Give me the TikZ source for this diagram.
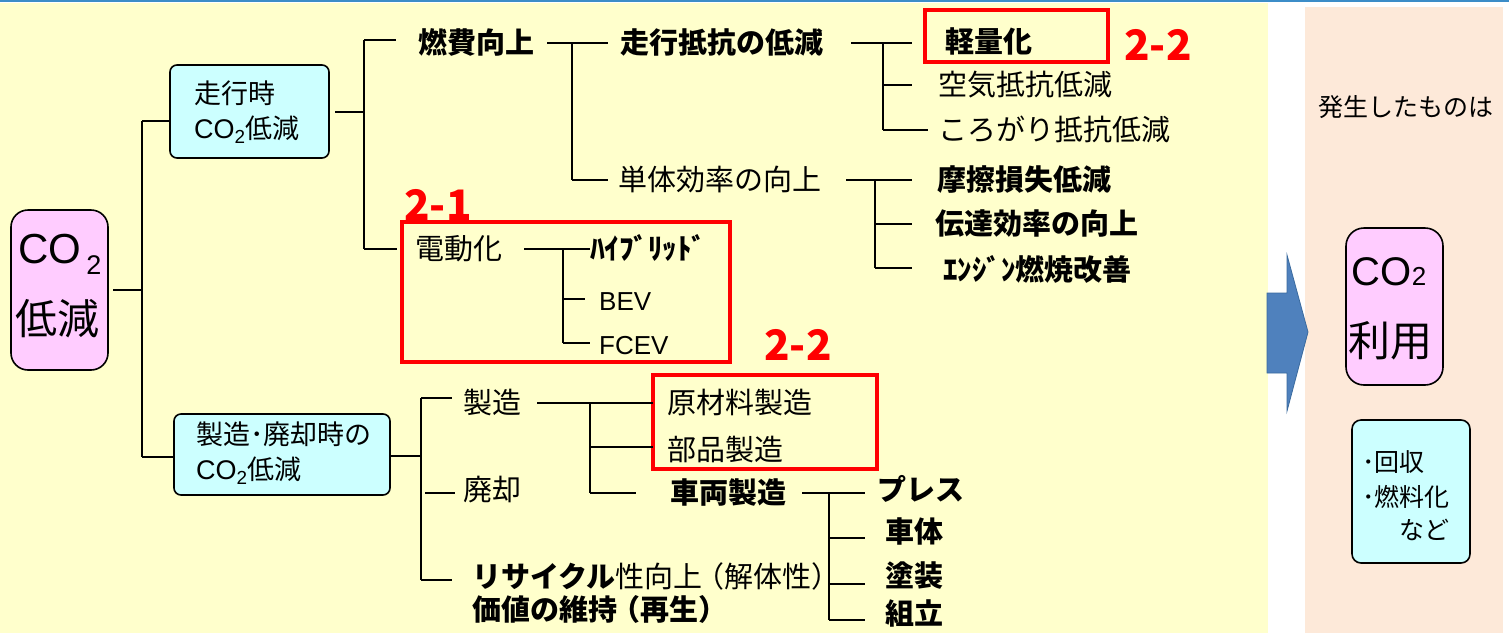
\documentclass[tikz,border=0pt]{standalone}
\usepackage{fontspec}
\setmainfont{Noto Sans CJK JP}
\newfontfamily\arialf{Liberation Sans}
\definecolor{bgy}{HTML}{FFFFCC}
\definecolor{bgp}{HTML}{FDE9D9}
\definecolor{cyb}{HTML}{CCFFFF}
\definecolor{pkb}{HTML}{FFCCFF}
\definecolor{topblue}{HTML}{3C8DC8}
\definecolor{arrblue}{HTML}{4F81BD}
\definecolor{arredge}{HTML}{3A6A9E}
\definecolor{redl}{HTML}{FF0000}
\newcommand\fsA{\fontsize{29}{34}\selectfont}
\newcommand\fsB{\fontsize{27}{35}\selectfont}
\newcommand\fsR{\fontsize{25}{30}\selectfont}
\newcommand\fsC{\fontsize{42}{48}\selectfont}
\newcommand\fsL{\fontsize{42}{48}\selectfont}
\begin{document}
\begin{tikzpicture}[x=1pt,y=-1pt,
  t/.style={anchor=west, inner sep=0pt, text height=25pt, text depth=4pt, font=\fsA},
  tb/.style={t, font=\fsA\bfseries},
  wire/.style={line width=1.8pt, black},
  redbox/.style={draw=redl, line width=3.4pt},
  redlab/.style={text=redl, inner sep=0pt, font=\fsL\bfseries},
  cbox/.style={draw=black, line width=1.6pt, fill=cyb, rounded corners=7pt, inner sep=0pt},
  pbox/.style={draw=black, line width=1.6pt, fill=pkb, rounded corners=17pt, inner sep=0pt}]
\useasboundingbox (0,0) rectangle (1509,633);
% backgrounds
\fill[white] (0,0) rectangle (1509,633);
\fill[bgy] (0,3) rectangle (1268,633);
\fill[bgp] (1305,7) rectangle (1503,633);
\draw[topblue, line width=1.6pt] (0,0.8) -- (1509,0.8);
% big arrow
\filldraw[fill=arrblue, draw=arredge, line width=0.8pt]
  (1267,293) -- (1287,293) -- (1287,255) -- (1308,332) -- (1287,411) -- (1287,373) -- (1267,373) -- cycle;

% left root box
\node[pbox, minimum width=97pt, minimum height=160pt] (co2) at (59.5,290) {};
\node[inner sep=0pt, font=\arialf\fsC] (co2a) at (50,249) {CO};
\node[inner sep=0pt, font=\arialf\fontsize{27}{27}\selectfont] (co2b) at (94,265) {2};
\node[inner sep=0pt, font=\fsC] (co2c) at (58,319) {低減};

% level-1 boxes
\node[cbox, minimum width=159pt, minimum height=93pt] (run) at (249.5,111.5) {};
\node[anchor=west, inner sep=0pt, align=left, font=\fsB] (runt) at (194,112)
  {走行時\\{\arialf CO\textsubscript{2}}低減};
\node[cbox, minimum width=216pt, minimum height=81pt] (mfg) at (282,454.5) {};
\node[anchor=west, inner sep=0pt, align=left, font=\fsB] (mfgt) at (196,453)
  {製造･廃却時の\\{\arialf CO\textsubscript{2}}低減};

% tree texts
\node[tb] (n1) at (418,43) {燃費向上};
\node[tb] (n2) at (620,43) {走行抵抗の低減};
\node[tb] (n3) at (945,42) {軽量化};
\node[t]  (n4) at (938,85) {空気抵抗低減};
\node[t]  (n5) at (938,130) {ころがり抵抗低減};
\node[t]  (n6) at (618,180) {単体効率の向上};
\node[tb] (n7) at (937,180) {摩擦損失低減};
\node[tb] (n8) at (935,224) {伝達効率の向上};
\node[tb] (n9) at (943,270) {ｴﾝｼﾞﾝ燃焼改善};
\node[t]  (n10) at (415,249) {電動化};
\node[tb] (n11) at (590,249) {ﾊｲﾌﾞﾘｯﾄﾞ};
\node[t, font=\arialf\fontsize{26}{30}\selectfont] (n12) at (599,300) {BEV};
\node[t, font=\arialf\fontsize{26}{30}\selectfont] (n13) at (599,344) {FCEV};
\node[t]  (n14) at (463,403) {製造};
\node[t]  (n15) at (463,490) {廃却};
\node[t]  (n16) at (472,577) {\textbf{リサイクル}性向上\kern-0.25em（解体性）};
\node[tb] (n17) at (472,610) {価値の維持\kern-0.2em（再生）};
\node[t]  (n18) at (667,403) {原材料製造};
\node[t]  (n19) at (667,450) {部品製造};
\node[tb] (n20) at (670,493) {車両製造};
\node[tb] (n21) at (877,490) {プレス};
\node[tb] (n22) at (885,532) {車体};
\node[tb] (n23) at (885,576) {塗装};
\node[tb] (n24) at (885,614) {組立};

% red highlight boxes and labels
\draw[redbox] (925,10) rectangle (1108,62);
\draw[redbox] (402,222) rectangle (730,362);
\draw[redbox] (653,375) rectangle (877,469);
\node[redlab] (r1) at (1158,45) {2-2};
\node[redlab] (r2) at (438,205) {2-1};
\node[redlab] (r3) at (798,345) {2-2};

% right side
\node[anchor=west, inner sep=0pt, font=\fsR] (hs) at (1318,107) {発生したものは};
\node[pbox, rounded corners=18pt, minimum width=97pt, minimum height=157pt] (use) at (1394.5,306.5) {};
\node[inner sep=0pt, font=\arialf\fontsize{40}{44}\selectfont] (usea) at (1389,272) {CO{\fontsize{26}{26}\selectfont 2}};
\node[inner sep=0pt, font=\fsC] (useb) at (1390,341) {利用};
\node[cbox, rounded corners=9pt, minimum width=118pt, minimum height=143pt] (rec) at (1411,491.5) {};
\node[anchor=west, inner sep=0pt, font=\fsR] (rec1) at (1362,462) {･回収};
\node[anchor=west, inner sep=0pt, font=\fsR] (rec2) at (1362,497) {･燃料化};
\node[anchor=west, inner sep=0pt, font=\fsR] (rec3) at (1399,530) {など};

% connector coordinates
\coordinate (a0) at (113,290);
\coordinate (a1) at (142,290);
\coordinate (a2) at (142,121);
\coordinate (a3) at (142,457);
\draw[wire] (a0) -- (a1);
\draw[wire] (a2) -- (a3);
\draw[wire] (a2) -- (run.west |- a2);
\draw[wire] (a3) -- (mfg.west |- a3);

\coordinate (b0) at (335,112);
\coordinate (b1) at (364,112);
\coordinate (b2) at (364,40);
\coordinate (b3) at (364,249);
\draw[wire] (b0) -- (b1);
\draw[wire] (b2) -- (b3);
\draw[wire] (b2) -- (396,40);
\draw[wire] (b3) -- (397,249);

\coordinate (c0) at (547,43);
\coordinate (c1) at (572,43);
\coordinate (c2) at (572,180);
\draw[wire] (c0) -- (608,43);
\draw[wire] (c1) -- (c2);
\draw[wire] (c2) -- (608,180);

\coordinate (d0) at (851,43);
\coordinate (d1) at (883,43);
\coordinate (d2) at (883,85);
\coordinate (d3) at (883,130);
\draw[wire] (d0) -- (912,43);
\draw[wire] (d1) -- (d3);
\draw[wire] (d2) -- (912,85);
\draw[wire] (d3) -- (928,130);

\coordinate (e0) at (846,180);
\coordinate (e1) at (875,180);
\coordinate (e2) at (875,224);
\coordinate (e3) at (875,268);
\draw[wire] (e0) -- (912,180);
\draw[wire] (e1) -- (e3);
\draw[wire] (e2) -- (912,224);
\draw[wire] (e3) -- (912,268);

\coordinate (f0) at (524,249);
\coordinate (f1) at (563,249);
\coordinate (f2) at (563,299);
\coordinate (f3) at (563,343);
\draw[wire] (f0) -- (n11.west |- f0);
\draw[wire] (f1) -- (f3);
\draw[wire] (f2) -- (585,299);
\draw[wire] (f3) -- (590,343);

\coordinate (g0) at (390,456);
\coordinate (g1) at (421,456);
\coordinate (g2) at (421,398);
\coordinate (g3) at (421,580);
\draw[wire] (g0) -- (g1);
\draw[wire] (g2) -- (g3);
\draw[wire] (g2) -- (452,398);
\draw[wire] (425,493) -- (455,493);
\draw[wire] (g3) -- (452,580);

\coordinate (h0) at (537,403);
\coordinate (h1) at (590,403);
\coordinate (h2) at (590,447);
\coordinate (h3) at (590,493);
\draw[wire] (h0) -- (653,403);
\draw[wire] (h1) -- (h3);
\draw[wire] (h2) -- (653,447);
\draw[wire] (h3) -- (636,493);

\coordinate (k0) at (802,493);
\coordinate (k1) at (829,493);
\coordinate (k2) at (829,538);
\coordinate (k3) at (829,584);
\coordinate (k4) at (829,620);
\draw[wire] (k0) -- (865,493);
\draw[wire] (k1) -- (k4);
\draw[wire] (k2) -- (865,538);
\draw[wire] (k3) -- (865,584);
\draw[wire] (k4) -- (865,620);
\end{tikzpicture}
\end{document}
